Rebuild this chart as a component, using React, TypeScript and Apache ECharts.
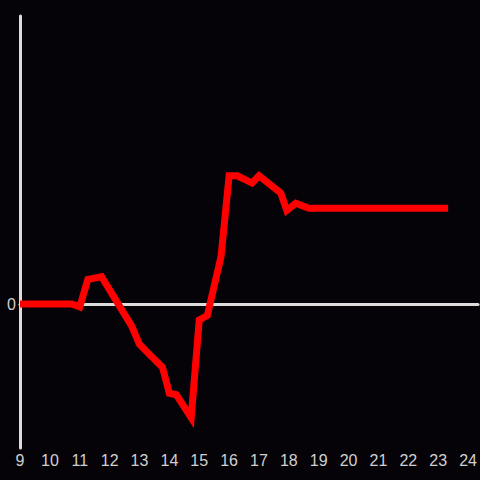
import React, { useEffect, useRef } from "react";
import * as echarts from "echarts";

const hours: number[] = [9, 10.73, 11.0, 11.27, 11.73, 12.73, 13.0, 13.33, 13.77, 14.0, 14.23, 14.73, 15.0, 15.27, 15.73, 16.0, 16.27, 16.77, 17.0, 17.73, 17.93, 18.23, 18.67, 23.33];
const values: number[] = [0, 0, -0.02, 0.17, 0.19, -0.15, -0.28, -0.35, -0.44, -0.62, -0.63, -0.79, -0.11, -0.08, 0.33, 0.89, 0.89, 0.84, 0.89, 0.77, 0.65, 0.7, 0.665, 0.665];

const X_MIN = 9;
const X_MAX = 24 + 1 / 3;
const Y_MIN = -1;
const Y_MAX = 2;

export default function App() {
  const ref = useRef<HTMLDivElement>(null);
  useEffect(() => {
    if (!ref.current) return;
    const chart = echarts.init(ref.current, undefined, { renderer: "svg" });
    const axisColor = "#dcdcdc";
    const labelColor = "#d0d0d0";
    chart.setOption({
      animation: false,
      backgroundColor: "#050307",
      grid: { left: 20, right: 0, top: 16, bottom: 32 },
      xAxis: [
        {
          type: "value",
          position: "bottom",
          min: X_MIN,
          max: X_MAX,
          interval: 1,
          axisLine: { show: false, onZero: false },
          axisTick: { show: false },
          splitLine: { show: false },
          axisLabel: {
            color: labelColor,
            fontSize: 16,
            fontFamily: "Liberation Sans, Arial, sans-serif",
            margin: 4,
            showMaxLabel: false,
            formatter: (v: number) => (Number.isInteger(v) ? String(v) : ""),
          },
        },
        {
          type: "value",
          position: "bottom",
          min: X_MIN,
          max: X_MAX,
          interval: 1,
          axisLine: { show: true, onZero: true, onZeroAxisIndex: 0, lineStyle: { color: axisColor, width: 3 } },
          axisTick: { show: false },
          axisLabel: { show: false },
          splitLine: { show: false },
        },
      ],
      yAxis: {
        type: "value",
        min: Y_MIN,
        max: Y_MAX,
        interval: 1,
        axisLine: { show: true, onZero: false, lineStyle: { color: axisColor, width: 3 } },
        axisTick: { show: false },
        splitLine: { show: false },
        axisLabel: {
          color: labelColor,
          fontSize: 16,
          fontFamily: "Liberation Sans, Arial, sans-serif",
          margin: 4,
          formatter: (v: number) => (v === 0 ? "0" : ""),
        },
      },
      series: [
        {
          type: "line",
          xAxisIndex: 0,
          data: hours.map((h, i) => [h, values[i]]),
          showSymbol: false,
          symbol: "none",
          lineStyle: { color: "#ff0000", width: 7, join: "miter" },
          z: 10,
        },
      ],
    });
    return () => chart.dispose();
  }, []);
  return <div ref={ref} style={{ width: 480, height: 480, position: "fixed", left: 0, top: 0 }} />;
}
